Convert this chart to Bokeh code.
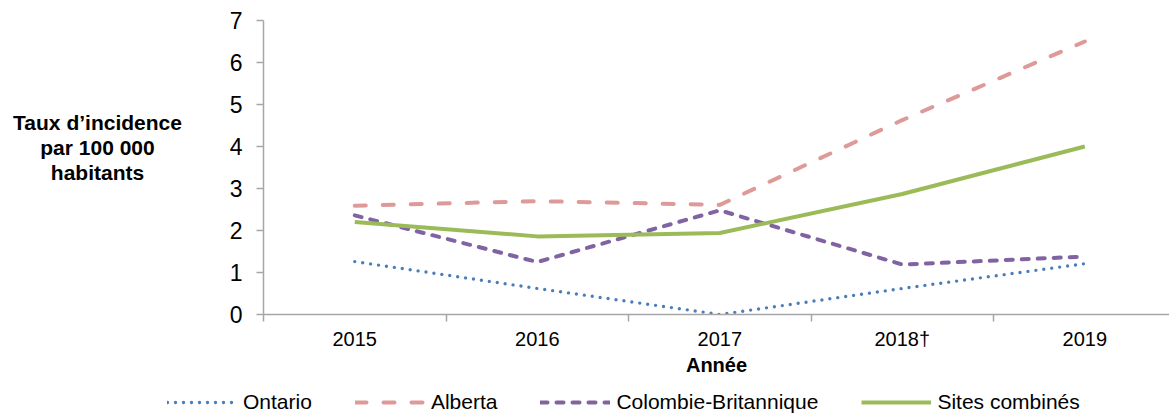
from bokeh.plotting import figure
from bokeh.layouts import row, column
from bokeh.models import Range1d, FixedTicker, Legend, LegendItem, Label
from bokeh.embed import file_html
from bokeh.resources import INLINE

# Incidence rate per 100 000 inhabitants, by year and site
years = ["2015", "2016", "2017", "2018†", "2019"]
ontario = [1.26, 0.62, 0.00, 0.62, 1.21]
alberta = [2.59, 2.70, 2.61, 4.63, 6.50]
colombie_britannique = [2.36, 1.25, 2.48, 1.19, 1.38]
sites_combines = [2.20, 1.86, 1.94, 2.87, 4.00]

series_names = ["Ontario", "Alberta", "Colombie-Britannique", "Sites combinés"]
y_title = "Taux d’incidence\npar 100 000\nhabitants"
x_title = "Année"
y_ticks = [0, 1, 2, 3, 4, 5, 6, 7]

FONT = "Liberation Sans"
AXIS_GREY = "#A6A6A6"

# line style per series, shared by the chart and the legend strip
styles = [
    dict(line_color="#4A7EBB", line_width=3.4, line_dash="0 8", line_cap="round"),
    dict(line_color="#DD9A98", line_width=4, line_dash="11 17", line_cap="round"),
    dict(line_color="#8064A2", line_width=4, line_dash="7 9", line_cap="round"),
    dict(line_color="#9BBB59", line_width=4, line_join="round"),
]

# one slot per year: points sit in the middle, ticks mark the slot edges
centers = [i + 0.5 for i in range(len(years))]
edges = list(range(len(years) + 1))

y_range = Range1d(0, 7)
BOTTOM = 66

# narrow strip on the left that carries the horizontal y-axis title
side = figure(
    frame_width=200, frame_height=294,
    min_border_left=0, min_border_right=0,
    min_border_top=20, min_border_bottom=BOTTOM,
    x_range=Range1d(0, 200), y_range=y_range,
    x_axis_location=None, y_axis_location=None,
    output_backend="svg", toolbar_location=None,
)
side.outline_line_color = None
side.xgrid.visible = False
side.ygrid.visible = False
side.add_layout(Label(
    x=97, y=3.976, text=y_title,
    text_align="center", text_baseline="middle",
    text_font=FONT, text_font_size="21px", text_font_style="bold",
    text_line_height=1.1, text_color="black",
))

p = figure(
    frame_width=906, frame_height=294,
    min_border_left=63, min_border_right=0,
    min_border_top=20, min_border_bottom=BOTTOM,
    x_range=Range1d(0, 4.964), y_range=y_range,
    output_backend="svg", toolbar_location=None,
)
p.outline_line_color = None
p.xgrid.visible = False
p.ygrid.visible = False

# y axis
ya = p.yaxis[0]
ya.ticker = FixedTicker(ticks=y_ticks)
ya.axis_line_color = AXIS_GREY
ya.axis_line_width = 1.5
ya.major_tick_line_color = AXIS_GREY
ya.major_tick_line_width = 1.5
ya.major_tick_out = 7
ya.major_tick_in = 0
ya.minor_tick_line_color = None
ya.major_label_text_font = FONT
ya.major_label_text_font_size = "23px"
ya.major_label_text_color = "black"
ya.major_label_standoff = 14

# x axis: year labels centred in each slot, small ticks at slot edges
xa = p.xaxis[0]
xa.ticker = FixedTicker(ticks=centers, minor_ticks=edges)
xa.major_label_overrides = {c: y for c, y in zip(centers, years)}
xa.axis_line_color = AXIS_GREY
xa.axis_line_width = 1.5
xa.major_tick_line_color = None
xa.major_tick_out = 0
xa.major_tick_in = 0
xa.minor_tick_line_color = AXIS_GREY
xa.minor_tick_line_width = 1.5
xa.minor_tick_out = 7
xa.minor_tick_in = 0
xa.major_label_text_font = FONT
xa.major_label_text_font_size = "20px"
xa.major_label_text_color = "black"
xa.major_label_standoff = 6
xa.axis_label = x_title
xa.axis_label_text_font = FONT
xa.axis_label_text_font_size = "20px"
xa.axis_label_text_font_style = "bold"
xa.axis_label_text_color = "black"
xa.axis_label_standoff = 1

series = [ontario, alberta, colombie_britannique, sites_combines]
for values, st in zip(series, styles):
    p.line(centers, values, **st)

# legend strip under the chart; its sample lines sit outside the visible range
key = figure(
    frame_width=1169, frame_height=414 - 20 - 294 - BOTTOM,
    min_border=0, x_axis_location=None, y_axis_location=None,
    x_range=Range1d(0, 1), y_range=Range1d(0, 1),
    output_backend="svg", toolbar_location=None,
)
key.outline_line_color = None
key.xgrid.visible = False
key.ygrid.visible = False
key_renderers = [key.line([-3, -2], [-3, -2], **st) for st in styles]

legend = Legend(
    items=[LegendItem(label=n, renderers=[r]) for n, r in
           zip(series_names, key_renderers)],
    orientation="horizontal",
    location=(167, 0),
    glyph_width=70, glyph_height=20,
    label_standoff=6, spacing=43,
    padding=8, margin=0,
    border_line_color=None, background_fill_alpha=0,
    label_text_font=FONT, label_text_font_size="21px",
    label_text_color="black",
)
key.add_layout(legend, "center")

open("out.html", "w").write(file_html(column(row(side, p), key), INLINE))
